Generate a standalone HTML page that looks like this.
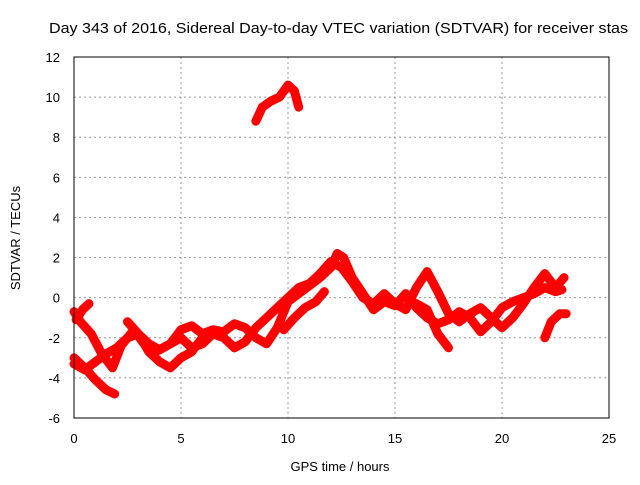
<!DOCTYPE html>
<html><head><meta charset="utf-8"><style>
body{margin:0;background:#fff}
svg text{font-family:"Liberation Sans",sans-serif;font-size:13px;fill:#000}
</style></head><body>
<svg id="chart" width="640" height="480">
<text x="49" y="33" style="font-size:15px" textLength="579" lengthAdjust="spacingAndGlyphs">Day 343 of 2016, Sidereal Day-to-day VTEC variation (SDTVAR) for receiver stas</text>
<g id="grid"></g>
<g id="tracks"></g>
<rect x="74" y="57" width="535" height="361" fill="none" stroke="#000"/>
<g id="axes"></g>
<text x="340" y="471" text-anchor="middle">GPS time / hours</text>
<text transform="translate(20,238) rotate(-90)" text-anchor="middle">SDTVAR / TECUs</text>
</svg>
<script>
const xTicks=[0,5,10,15,20,25];
const yTicks=[-6,-4,-2,0,2,4,6,8,10,12];
const trackTop=[[8.5,8.8],[8.8,9.5],[9.2,9.8],[9.6,10.0],[10.0,10.6],[10.3,10.3],[10.5,9.5]];
const trackB=[[0,-3],[0.5,-3.5],[1,-4.1],[1.5,-4.6],[1.9,-4.8]];
const trackC=[[0,-0.7],[0.3,-1.2],[0.8,-1.8],[1.3,-2.8],[1.8,-3.5],[2.2,-2.4],[2.8,-1.6],[3.2,-2.2],[3.8,-2.7],[4.5,-2.3],[5,-1.6],[5.5,-1.4],[6,-1.8],[6.5,-1.6],[7,-1.7],[7.5,-1.3],[8,-1.5],[8.5,-2],[9,-2.3],[9.5,-1.5],[10,-0.2],[10.5,0.2],[11,0.6],[11.5,1],[12,1.5],[12.3,2.2],[12.6,2],[13,1],[13.5,0.2],[14,-0.6],[14.5,-0.2],[15,-0.4],[15.5,0.2],[16,-0.5],[16.5,-1],[17,-1.3],[17.5,-1.1],[18,-0.7],[18.5,-1],[19,-1.7],[19.5,-1.2],[20,-0.5],[20.5,-0.2],[21,0],[21.5,0.2],[22,0.5],[22.5,0.3],[22.8,0.4]];
const trackD=[[0,-3.3],[0.5,-3.6],[1,-3.2],[1.5,-2.8],[2,-2.5],[2.5,-2],[3,-1.8],[3.5,-2.3],[4,-2.6],[4.5,-2.3],[5,-2],[5.5,-2.5],[6,-2.3],[6.5,-1.8],[7,-2],[7.5,-2.5],[8,-2.2],[8.5,-1.5],[9,-1],[9.5,-0.5],[10,0],[10.5,0.5],[11,0.7],[11.5,1.2],[12,1.8],[12.5,1.5],[13,0.8],[13.5,0],[14,-0.3],[14.5,0.2],[15,-0.3],[15.5,-0.6],[16,0.5],[16.5,1.3],[17,0.3],[17.5,-0.8],[18,-1.2],[18.5,-0.8],[19,-0.5],[19.5,-1],[20,-1.5],[20.5,-1],[21,-0.3],[21.5,0.5],[22,1.2],[22.5,0.5],[22.9,1]];
const trackE=[[0.1,-1.1],[0.4,-0.6],[0.7,-0.3]];
const trackF=[[2.5,-1.2],[3,-1.8],[3.5,-2.7],[4,-3.2],[4.5,-3.5],[5,-3],[5.5,-2.7],[6,-2],[6.5,-1.7]];
const trackH=[[9.8,-1.6],[10.3,-1],[10.8,-0.5],[11.3,-0.2],[11.7,0.3]];
const trackI=[[16,-0.3],[16.5,-0.6],[17,-1.8],[17.5,-2.5]];
const trackJ=[[22,-2],[22.3,-1.2],[22.7,-0.8],[23,-0.8]];
const tracks=[trackTop,trackB,trackC,trackD,trackE,trackF,trackH,trackI,trackJ];
const X=h=>74+h*(535/25), Y=v=>418-(v+6)*(361/18);
const ns='http://www.w3.org/2000/svg';
const g=document.getElementById('grid'),ax=document.getElementById('axes'),tr=document.getElementById('tracks');
function mk(tag,attrs,parent){const e=document.createElementNS(ns,tag);for(const k in attrs)e.setAttribute(k,attrs[k]);parent.appendChild(e);return e;}
xTicks.forEach(t=>{
 if(t>0&&t<25){const l=mk('line',{x1:X(t),x2:X(t),y1:57,y2:418,stroke:'#999','stroke-dasharray':'2,3'},g);
 
 }
 const tx=mk('text',{x:X(t),y:443,'text-anchor':'middle'},ax);tx.textContent=t;
 
 
});
yTicks.forEach(t=>{
 if(t>-6&&t<12){const l=mk('line',{x1:74,x2:609,y1:Y(t),y2:Y(t),stroke:'#999','stroke-dasharray':'2,3'},g);
 
 }
 const tx=mk('text',{x:60,y:Y(t)+5,'text-anchor':'end'},ax);tx.textContent=t;
 
 
});
tracks.forEach(tk=>{
 const p=mk('polyline',{points:tk.map(d=>X(d[0])+','+Y(d[1])).join(' '),fill:'none',stroke:'#f00','stroke-width':9,'stroke-linejoin':'round','stroke-linecap':'round'},tr);
 
 
});
</script>
</body></html>
